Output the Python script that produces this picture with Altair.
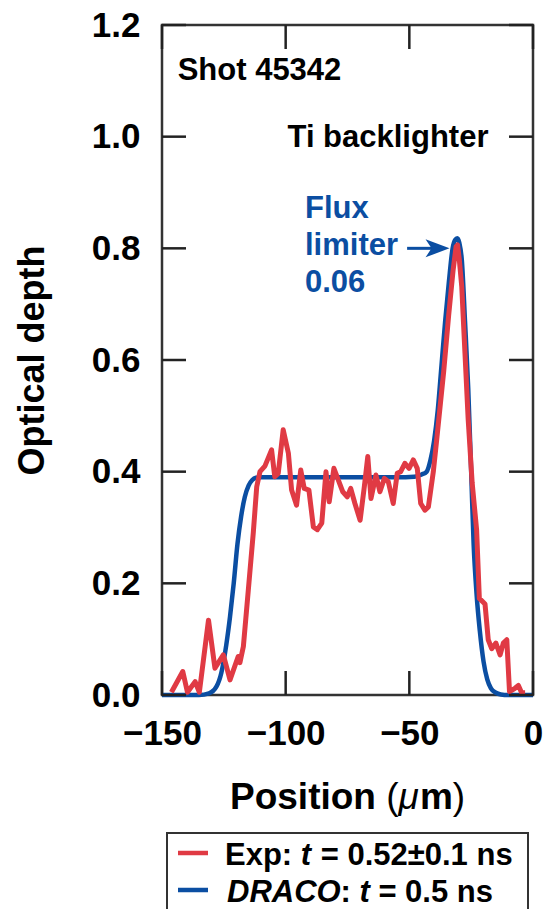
import altair as alt
import pandas as pd

# Measured optical depth, experiment (shot 45342)
pos_exp = [-146.2, -141.6, -139.7, -136.6, -134.9, -131.2, -128.6, -125.2, -122.5, -119.2,
           -118.5, -117.1, -115.1, -113.1, -111.7, -110.4, -108.4, -105.7, -104.4, -103.0,
           -101.0, -98.9, -97.6, -95.6, -93.9, -92.5, -90.6, -88.8, -87.2, -85.4,
           -83.7, -82.4, -80.5, -78.7, -76.9, -75.1, -73.7, -72.0, -69.9, -68.2,
           -66.8, -65.5, -63.5, -61.9, -60.1, -58.5, -56.5, -54.9, -53.5, -51.8,
           -50.1, -48.4, -46.8, -45.4, -43.7, -42.3, -40.3, -38.8, -36.1, -34.1,
           -32.3, -31.1, -30.5, -29.8, -28.8, -27.5, -26.2, -24.6, -22.8, -21.7,
           -19.4, -18.1, -16.7, -15.0, -13.3, -12.0, -10.6, -9.5, -7.3, -5.9,
           -4.6, -3.2]
od_exp = [0.005, 0.042, 0.005, 0.024, 0.005, 0.134, 0.048, 0.072, 0.027, 0.069,
          0.058, 0.087, 0.188, 0.290, 0.373, 0.400, 0.410, 0.439, 0.391, 0.397,
          0.475, 0.433, 0.367, 0.340, 0.403, 0.370, 0.367, 0.301, 0.296, 0.308,
          0.400, 0.346, 0.406, 0.385, 0.364, 0.355, 0.370, 0.343, 0.313, 0.373,
          0.427, 0.352, 0.394, 0.364, 0.388, 0.382, 0.343, 0.397, 0.400, 0.415,
          0.406, 0.421, 0.406, 0.343, 0.331, 0.337, 0.400, 0.463, 0.580, 0.680,
          0.761, 0.803, 0.806, 0.780, 0.731, 0.612, 0.493, 0.380, 0.296, 0.173,
          0.163, 0.099, 0.083, 0.093, 0.072, 0.093, 0.099, 0.006, 0.012, 0.017,
          0.004, 0.004]

# DRACO simulation, flux limiter 0.06
pos_draco = [-150, -135, -131, -128, -126, -124, -122.5, -121, -119.5, -118,
             -116.5, -115, -113.5, -112, -110, -105, -90, -70, -55, -48,
             -45, -43, -41.5, -40, -38.5, -37, -35.5, -34, -32.5, -31.5,
             -30.6, -29.8, -28.8, -27.5, -26.2, -25, -24, -22.8, -21.5, -20,
             -18.5, -17, -15, -13, -10, 0]
od_draco = [0.0, 0.0, 0.003, 0.015, 0.04, 0.09, 0.14, 0.20, 0.27, 0.32,
            0.355, 0.375, 0.385, 0.389, 0.39, 0.39, 0.39, 0.39, 0.39, 0.391,
            0.395, 0.40, 0.42, 0.455, 0.51, 0.59, 0.67, 0.74, 0.80, 0.815,
            0.818, 0.81, 0.78, 0.67, 0.55, 0.40, 0.27, 0.18, 0.115, 0.06,
            0.028, 0.012, 0.004, 0.001, 0.0, 0.0]

x_ticks = [-150, -100, -50, 0]
y_ticks = [0.0, 0.2, 0.4, 0.6, 0.8, 1.0, 1.2]

W, H = 371, 670
FONT = "Liberation Sans"
RED = "#E03A44"
BLUE = "#0B4EA2"
INK = "#222222"

exp = pd.DataFrame({"pos": pos_exp, "od": od_exp})
draco = pd.DataFrame({"pos": pos_draco, "od": od_draco})
one = pd.DataFrame({"k": [0]})

xs = alt.Scale(domain=[-150, 0], nice=False, zero=False)
ys = alt.Scale(domain=[0, 1.2], nice=False, zero=False)

x_axis = alt.Axis(
    values=x_ticks, ticks=False, domain=False, grid=False, labelFlush=False,
    labelFont=FONT, labelFontSize=35, labelFontWeight="bold", labelColor="black",
    labelPadding=21, title=None,
)
y_axis = alt.Axis(
    values=y_ticks, format=".1f", ticks=False, domain=False, grid=False,
    labelFont=FONT, labelFontSize=35, labelFontWeight="bold", labelColor="black",
    labelPadding=22, labelOverlap=False,
    title="Optical depth", titleFont=FONT, titleFontSize=36, titleFontWeight="bold",
    titleColor="black", titleX=-130, titleY=H / 2, titleAngle=-90,
    titleAlign="center", titleBaseline="middle",
)

X = alt.X("pos:Q", scale=xs, axis=x_axis)
Y = alt.Y("od:Q", scale=ys, axis=y_axis)

draco_line = alt.Chart(draco).mark_line(
    color=BLUE, strokeWidth=4.5, strokeJoin="round", interpolate="monotone"
).encode(x=X, y=Y)
exp_line = alt.Chart(exp).mark_line(
    color=RED, strokeWidth=5, strokeJoin="round"
).encode(x=X, y=Y)

# Inward ticks on all four sides of the frame
tx = pd.DataFrame({"pos": x_ticks})
ty = pd.DataFrame({"od": y_ticks})
tick_style = dict(color=INK, strokeWidth=2.5)
top_ticks = alt.Chart(tx).mark_rule(**tick_style).encode(x=X, y=alt.value(0), y2=alt.value(24))
bot_ticks = alt.Chart(tx).mark_rule(**tick_style).encode(x=X, y=alt.value(H - 24), y2=alt.value(H))
left_ticks = alt.Chart(ty).mark_rule(**tick_style).encode(y=Y, x=alt.value(0), x2=alt.value(24))
right_ticks = alt.Chart(ty).mark_rule(**tick_style).encode(y=Y, x=alt.value(W - 24), x2=alt.value(W))

# Arrow pointing to the simulated peak
shaft = pd.DataFrame({"pos": [-50.9], "pos2": [-40.0], "od": [0.80]})
head = pd.DataFrame({"pos": [-38.6], "od": [0.80]})
arrow_shaft = alt.Chart(shaft).mark_rule(color=BLUE, strokeWidth=3).encode(
    x=X, x2="pos2:Q", y=Y)
arrow_head = alt.Chart(head).mark_point(
    shape="M1,0 L-1,-0.75 L-0.5,0 L-1,0.75 Z", filled=True, size=576,
    color=BLUE, opacity=1, strokeWidth=0,
).encode(x=X, y=Y)


def label(text, x, y, color="black", size=31, style="normal", weight="bold", align="left"):
    return alt.Chart(one).mark_text(
        text=text, font=FONT, fontSize=size, fontWeight=weight, fontStyle=style,
        color=color, align=align, baseline="alphabetic",
    ).encode(x=alt.value(x), y=alt.value(y))


notes = [
    label("Shot 45342", 97.5, 55, align="center"),
    label("Ti backlighter", 226, 122, align="center"),
    label("Flux", 143, 193, color=BLUE),
    label("limiter", 143, 230, color=BLUE),
    label("0.06", 143, 267, color=BLUE),
]

# x-axis title with an italic, light mu
x_title = [
    label("Position", 68, 784, size=37),
    label("(", 224.3, 784, size=37, weight="normal"),
    label("μ", 236.6, 784, size=37, weight="normal", style="italic"),
    label("m", 257.9, 784, size=37),
    label(")", 290.8, 784, size=37, weight="normal"),
]

# Legend box below the plot
legend_box = alt.Chart(one).mark_rect(
    fillOpacity=0, stroke="#333333", strokeWidth=2
).encode(x=alt.value(5), x2=alt.value(366), y=alt.value(808), y2=alt.value(900))
sw_red = alt.Chart(one).mark_rule(color=RED, strokeWidth=4.5).encode(
    x=alt.value(16), x2=alt.value(46), y=alt.value(828))
sw_blue = alt.Chart(one).mark_rule(color=BLUE, strokeWidth=4.5).encode(
    x=alt.value(16), x2=alt.value(46), y=alt.value(865))
legend_text = [
    label("Exp:", 63, 840),
    label("t", 138.8, 840, style="italic"),
    label("= 0.52±0.1 ns", 158.7, 840),
    label("DRACO", 65, 877, style="italic"),
    label(":", 178.6, 877),
    label("t", 197.5, 877, style="italic"),
    label("= 0.5 ns", 216.4, 877),
]

chart = alt.layer(
    draco_line, exp_line,
    top_ticks, bot_ticks, left_ticks, right_ticks,
    arrow_shaft, arrow_head,
    *notes, *x_title,
    legend_box, sw_red, sw_blue, *legend_text,
).properties(
    width=W, height=H,
    autosize=alt.AutoSizeParams(type="none"),
    padding={"left": 162, "top": 25, "right": 12, "bottom": 214},
    background="white",
).configure_view(stroke="#333333", strokeWidth=2.5)

chart.save("out.html", embed_options={"renderer": "svg", "actions": False})
